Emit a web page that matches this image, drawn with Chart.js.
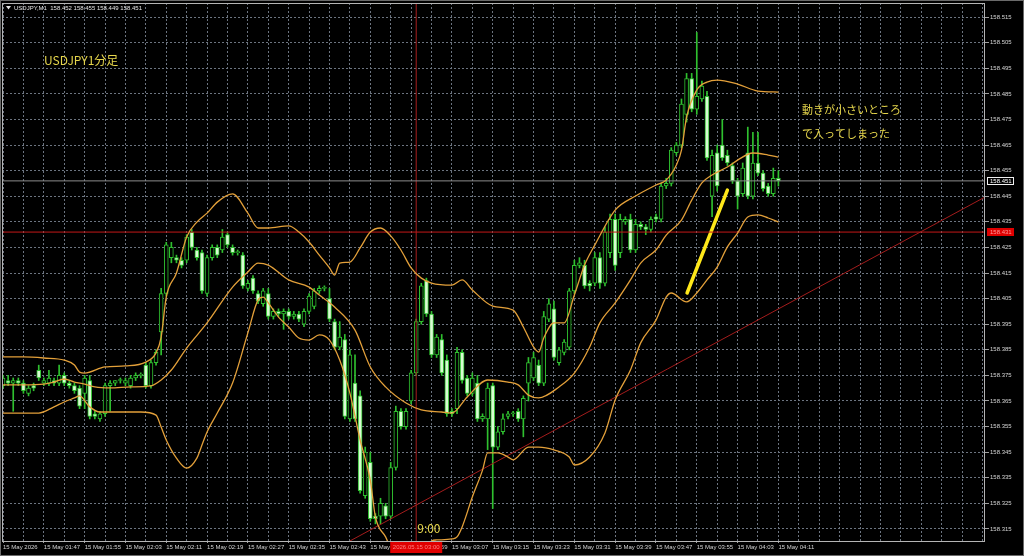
<!DOCTYPE html>
<html>
<head>
<meta charset="utf-8">
<script src="https://cdn.jsdelivr.net/npm/chart.js@4.4.1/dist/chart.umd.min.js"></script>
<style>
html, body { margin: 0; padding: 0; background: #000; overflow: hidden; }
canvas { display: block; }
</style>
</head>
<body>
<canvas id="chart" width="1024" height="556"></canvas>
<script>
// USDJPY M1, one candle per minute from 15 May 01:39
var symbol = "USDJPY,M1";
var timeLabels = ["15 May 2026", "15 May 01:47", "15 May 01:55", "15 May 02:03", "15 May 02:11",
  "15 May 02:19", "15 May 02:27", "15 May 02:35", "15 May 02:43", "15 May 02:51", "15 May 02:59",
  "15 May 03:07", "15 May 03:15", "15 May 03:23", "15 May 03:31", "15 May 03:39", "15 May 03:47",
  "15 May 03:55", "15 May 04:03", "15 May 04:11"];
var priceTicks = ["158.315", "158.325", "158.335", "158.345", "158.355", "158.365", "158.375",
  "158.385", "158.395", "158.405", "158.415", "158.425", "158.435", "158.445", "158.455",
  "158.465", "158.475", "158.485", "158.495", "158.505", "158.515"];

var opens = [158.371,158.373,158.372,158.373,158.372,158.368,158.371,158.377,158.372,158.372,
  158.373,158.372,158.375,158.372,158.371,158.370,158.368,158.373,158.360,158.358,
  158.360,158.371,158.372,158.373,158.372,158.371,158.374,158.375,158.379,158.371,
  158.380,158.392,158.407,158.421,158.421,158.420,158.420,158.431,158.424,158.423,
  158.407,158.421,158.425,158.424,158.430,158.425,158.423,158.422,158.409,158.413,
  158.407,158.403,158.407,158.398,158.400,158.399,158.400,158.398,158.399,158.395,
  158.400,158.402,158.408,158.409,158.405,158.396,158.386,158.389,158.358,158.372,
  158.367,158.328,158.341,158.320,158.320,158.324,158.320,158.339,158.361,158.355,
  158.365,158.376,158.396,158.412,158.399,158.383,158.389,158.381,158.361,158.362,
  158.384,158.374,158.368,158.372,158.358,158.358,158.371,158.347,158.353,158.359,
  158.360,158.361,158.358,158.372,158.374,158.379,158.372,158.397,158.401,158.380,
  158.384,158.386,158.408,158.418,158.418,158.411,158.411,158.421,158.411,158.423,
  158.436,158.423,158.435,158.436,158.424,158.434,158.433,158.432,158.437,158.436,
  158.449,158.450,158.462,158.465,158.477,158.491,158.479,158.483,158.484,158.445,
  158.462,158.465,158.461,158.457,158.451,158.446,158.462,158.445,158.458,158.454,
  158.449,158.446,158.452];
var highs = [158.375,158.375,158.374,158.374,158.373,158.371,158.372,158.379,158.374,158.377,
  158.374,158.379,158.376,158.373,158.372,158.371,158.375,158.375,158.361,158.361,
  158.372,158.373,158.373,158.374,158.374,158.375,158.376,158.376,158.380,158.381,
  158.385,158.409,158.427,158.427,158.422,158.421,158.430,158.432,158.425,158.424,
  158.422,158.426,158.426,158.432,158.431,158.426,158.424,158.423,158.412,158.414,
  158.408,158.409,158.409,158.401,158.401,158.401,158.401,158.400,158.400,158.401,
  158.407,158.409,158.410,158.410,158.409,158.397,158.396,158.391,158.385,158.383,
  158.369,158.347,158.345,158.321,158.327,158.325,158.341,158.363,158.362,158.362,
  158.377,158.397,158.411,158.413,158.400,158.391,158.391,158.383,158.362,158.386,
  158.385,158.375,158.376,158.375,158.360,158.372,158.372,158.355,158.360,158.361,
  158.361,158.362,158.367,158.382,158.384,158.381,158.400,158.405,158.404,158.386,
  158.389,158.409,158.420,158.421,158.420,158.412,158.423,158.423,158.433,158.438,
  158.438,158.438,158.437,158.438,158.436,158.435,158.434,158.437,158.438,158.450,
  158.452,158.464,158.466,158.483,158.493,158.493,158.509,158.490,158.486,158.463,
  158.465,158.475,158.463,158.458,158.452,158.458,158.472,158.470,158.470,158.455,
  158.450,158.456,158.455];
var lows = [158.370,158.371,158.361,158.371,158.368,158.367,158.369,158.373,158.371,158.371,
  158.371,158.371,158.371,158.370,158.368,158.362,158.362,158.358,158.358,158.357,
  158.359,158.361,158.371,158.372,158.371,158.370,158.373,158.374,158.370,158.370,
  158.379,158.383,158.406,158.419,158.419,158.417,158.419,158.424,158.420,158.407,
  158.406,158.420,158.421,158.423,158.425,158.422,158.422,158.409,158.408,158.407,
  158.403,158.402,158.397,158.397,158.398,158.393,158.397,158.397,158.396,158.394,
  158.399,158.401,158.407,158.408,158.396,158.385,158.385,158.358,158.357,158.357,
  158.329,158.327,158.318,158.317,158.317,158.319,158.319,158.338,158.354,158.354,
  158.364,158.375,158.395,158.398,158.382,158.382,158.375,158.359,158.359,158.360,
  158.372,158.367,158.367,158.357,158.357,158.346,158.323,158.346,158.352,158.358,
  158.359,158.357,158.351,158.365,158.373,158.371,158.371,158.396,158.381,158.379,
  158.383,158.385,158.407,158.417,158.409,158.408,158.410,158.409,158.410,158.421,
  158.416,158.421,158.434,158.423,158.423,158.432,158.430,158.431,158.435,158.435,
  158.448,158.449,158.461,158.464,158.474,158.478,158.477,158.482,158.459,158.437,
  158.447,158.459,158.457,158.450,158.440,158.445,158.444,158.444,158.453,158.447,
  158.445,158.445,158.449];
var closes = [158.374,158.372,158.373,158.372,158.369,158.370,158.370,158.374,158.373,158.374,
  158.372,158.375,158.372,158.371,158.369,158.363,158.374,158.359,158.359,158.360,
  158.371,158.372,158.373,158.373,158.373,158.374,158.375,158.375,158.371,158.380,
  158.384,158.407,158.426,158.425,158.420,158.418,158.429,158.425,158.421,158.408,
  158.421,158.425,158.422,158.429,158.426,158.423,158.423,158.410,158.411,158.408,
  158.404,158.408,158.398,158.400,158.399,158.400,158.398,158.399,158.397,158.400,
  158.406,158.408,158.409,158.409,158.397,158.386,158.390,158.359,158.383,158.358,
  158.330,158.345,158.319,158.319,158.325,158.320,158.339,158.361,158.355,158.361,
  158.376,158.396,158.410,158.399,158.383,158.390,158.376,158.360,158.360,158.384,
  158.373,158.368,158.374,158.358,158.359,158.370,158.347,158.353,158.358,158.360,
  158.360,158.358,158.366,158.380,158.382,158.372,158.398,158.403,158.382,158.385,
  158.388,158.408,158.418,158.419,158.410,158.410,158.421,158.411,158.431,158.436,
  158.418,158.436,158.436,158.424,158.434,158.433,158.432,158.436,158.436,158.449,
  158.450,158.463,158.465,158.481,158.491,158.479,158.484,158.488,158.460,158.461,
  158.449,158.460,158.458,158.451,158.445,158.456,158.445,158.458,158.454,158.448,
  158.446,158.452,158.451];

// Bollinger bands (bar index, price)
var upperBars = [0,4,8,12,14,15,16,20,24,28,30,31,32,34,36,38,40,42,45,48,50,52,56,58,60,62,64,65,66,68,
  70,72,74,76,78,80,82,84,88,90,92,96,100,102,104,105,106,108,110,112,114,116,120,124,128,130,132,133,134,136,
  138,140,144,148,152];
var upperBand = [158.3822,158.3822,158.3818,158.381,158.3791,158.3763,158.3759,158.3783,158.3787,158.3802,
  158.3838,158.390,158.4056,158.415,158.4291,158.4349,158.4384,158.4427,158.4459,158.4384,
  158.4326,158.4326,158.4334,158.431,158.4271,158.422,158.417,158.4142,158.4189,158.4193,
  158.4248,158.431,158.4326,158.4295,158.424,158.417,158.413,158.4111,158.4103,158.4123,
  158.4084,158.4021,158.4005,158.3939,158.3861,158.3841,158.3896,158.3955,158.3955,158.4064,
  158.4181,158.4259,158.4396,158.4451,158.4494,158.4513,158.4572,158.463,158.4759,158.4865,
  158.4896,158.4904,158.4888,158.4861,158.4857];
var middleBars = [0,4,8,10,12,14,16,18,21,25,29,31,33,36,40,45,48,50,52,56,60,62,65,69,72,75,79,82,86,88,
  91,95,99,101,103,105,109,112,115,117,120,123,125,128,130,133,135,137,139,142,144,147,150,152];
var middleBand = [158.3713,158.3713,158.3716,158.3724,158.3736,158.3724,158.3716,158.3705,158.3701,158.3705,
  158.3709,158.3732,158.3771,158.3857,158.3955,158.4095,158.4154,158.4189,158.4181,158.4123,
  158.4095,158.4064,158.4017,158.3927,158.3783,158.3705,158.3642,158.3615,158.3607,158.3603,
  158.3666,158.3732,158.3724,158.3713,158.3673,158.3662,158.3705,158.3759,158.3861,158.3955,
  158.4033,158.4123,158.4189,158.424,158.4298,158.4357,158.4435,158.4502,158.4533,158.4564,
  158.4591,158.4619,158.4611,158.4603];
var lowerBars = [0,4,7,10,12,14,15,17,19,23,27,30,31,32,34,36,38,39,40,42,45,48,50,51,52,54,56,58,60,62,
  64,66,68,70,72,73,75,76,78,80,82,84,85,88,89,90,92,94,95,97,99,100,103,105,108,111,112,115,118,120,
  123,125,128,130,131,134,136,138,140,142,144,146,148,150,152];
var lowerBand = [158.3603,158.3603,158.3603,158.3627,158.3646,158.3662,158.367,158.3627,158.3607,158.3607,
  158.3607,158.3595,158.3548,158.3498,158.3427,158.3388,158.3427,158.3478,158.3529,158.3603,
  158.372,158.3916,158.4045,158.4056,158.4033,158.3978,158.3939,158.3896,158.3888,158.3908,
  158.3888,158.381,158.3681,158.3498,158.3341,158.3197,158.3119,158.3076,158.3029,158.3009,
  158.3029,158.3103,158.3107,158.3111,158.3119,158.3158,158.3275,158.338,158.3447,158.3447,
  158.3431,158.342,158.347,158.347,158.3459,158.3431,158.340,158.3431,158.3525,158.3654,
  158.3771,158.3877,158.3966,158.4056,158.4072,158.4037,158.4072,158.4123,158.4173,158.4252,
  158.4306,158.4369,158.4377,158.4365,158.4349];

// drawn objects
var trendBars = [68, 192.5];
var trendPrices = [158.3103, 158.4447];
var arrowBars = [134.1, 142];
var arrowPrices = [158.4072, 158.4474];
var levelPrice = 158.431;
var vlineBar = 81;
var vlineLabel = "2026.05.15 03:00";

var yMin = 158.3103, yMax = 158.5205;
var xMin = -0.2, xMax = 192.5;

var gridColor = "#6c7480";
var candleGreen = "#2fc02f";
var last = closes.length - 1;
var bid = closes[last];

function pts(xs, ys) {
  return xs.map(function (x, i) { return { x: x, y: ys[i] }; });
}

var bodyData = opens.map(function (o, i) { return { x: i, y: [o, closes[i]] }; });
var wickData = opens.map(function (o, i) { return { x: i, y: [lows[i], highs[i]] }; });
var bodyFill = opens.map(function (o, i) { return closes[i] >= o ? "#000000" : "#d8fcd2"; });

function lineSet(data, color, width, extra) {
  var d = {
    type: "line", data: data, borderColor: color, borderWidth: width,
    pointRadius: 0, fill: false, order: 0
  };
  for (var k in extra) d[k] = extra[k];
  return d;
}

var decor = {
  id: "decor",
  beforeDraw: function (chart) {
    var c = chart.ctx;
    c.save();
    c.fillStyle = "#000";
    c.fillRect(0, 0, chart.width, chart.height);
    c.restore();
  },
  afterDraw: function (chart) {
    var c = chart.ctx, a = chart.chartArea;
    var xs = chart.scales.x, ys = chart.scales.y;
    c.save();
    // frames
    c.strokeStyle = "#b4b4b4";
    c.lineWidth = 1;
    c.strokeRect(a.left + 0.5, a.top + 0.5, a.right - a.left - 1, a.bottom - a.top);
    c.strokeStyle = "#6a6a6a";
    c.strokeRect(0.5, 0.5, chart.width - 1, chart.height - 1);

    // header
    c.fillStyle = "#e4e4e4";
    c.beginPath();
    c.moveTo(6, 6); c.lineTo(11, 6); c.lineTo(8.5, 9.5); c.closePath(); c.fill();
    c.font = "6px 'Liberation Sans'";
    c.textBaseline = "middle";
    c.textAlign = "left";
    c.fillText(symbol + "  " + opens[last].toFixed(3) + " " + highs[last].toFixed(3) + " " +
      lows[last].toFixed(3) + " " + closes[last].toFixed(3), 14, 8);

    // notes
    c.fillStyle = "#e6d64c";
    c.font = "12px 'Noto Sans CJK JP'";
    c.fillText("USDJPY1分足", 44, 60);
    c.font = "11px 'Noto Sans CJK JP'";
    c.fillText("動きが小さいところ", 802, 110);
    c.fillText("で入ってしまった", 802, 134);
    c.font = "12px 'Noto Sans CJK JP'";
    c.fillText("9:00", xs.getPixelForValue(vlineBar) + 1, 528);

    // price boxes on the right axis
    c.font = "6px 'Liberation Sans'";
    var yb = Math.round(ys.getPixelForValue(bid));
    c.fillStyle = "#000";
    c.fillRect(987, yb - 4, 27, 8);
    c.strokeStyle = "#f0f0f0";
    c.strokeRect(987.5, yb - 3.5, 26, 7);
    c.fillStyle = "#ffffff";
    c.fillText(bid.toFixed(3), 990, yb);
    var yl = Math.round(ys.getPixelForValue(levelPrice));
    c.fillStyle = "#e00000";
    c.fillRect(987, yl - 4, 27, 8);
    c.fillStyle = "#ff9a9a";
    c.fillText(levelPrice.toFixed(3), 990, yl);

    // time box of the vertical line
    var xv = xs.getPixelForValue(vlineBar);
    c.fillStyle = "#e00000";
    c.fillRect(xv - 26, a.bottom + 1, 52, 11);
    c.fillStyle = "#ff8080";
    c.textAlign = "center";
    c.fillText(vlineLabel, xv, a.bottom + 6.5);
    c.restore();
  }
};

new Chart(document.getElementById("chart"), {
  type: "bar",
  data: {
    datasets: [
      lineSet(pts(upperBars, upperBand), "#e3a03a", 1.3, { cubicInterpolationMode: "monotone" }),
      lineSet(pts(middleBars, middleBand), "#e3a03a", 1.3, { cubicInterpolationMode: "monotone" }),
      lineSet(pts(lowerBars, lowerBand), "#e3a03a", 1.3, { cubicInterpolationMode: "monotone" }),
      lineSet(pts(trendBars, trendPrices), "#a41c1c", 1, {}),
      lineSet(pts([xMin, xMax], [levelPrice, levelPrice]), "#c41818", 1, {}),
      lineSet(pts([xMin, xMax], [bid, bid]), "#8c8c8c", 1, {}),
      lineSet(pts([vlineBar, vlineBar], [yMin, yMax]), "#a81e1e", 1, {}),
      lineSet(pts(arrowBars, arrowPrices), "#ffe81a", 3.5, { borderCapStyle: "round" }),
      {
        type: "bar", data: bodyData, grouped: false, barThickness: 4, minBarLength: 1,
        backgroundColor: bodyFill, borderColor: candleGreen, borderWidth: 1,
        borderSkipped: false, order: 1
      },
      {
        type: "bar", data: wickData, grouped: false, barThickness: 1, minBarLength: 1,
        backgroundColor: candleGreen, borderWidth: 0, borderSkipped: false, order: 2
      }
    ]
  },
  options: {
    responsive: false,
    animation: false,
    devicePixelRatio: 1,
    events: [],
    layout: { padding: { left: 2, top: 3, right: 0, bottom: 0 } },
    plugins: { legend: { display: false }, tooltip: { enabled: false } },
    scales: {
      x: {
        type: "linear", min: xMin, max: xMax, offset: false,
        afterBuildTicks: function (s) {
          s.ticks = [];
          for (var v = 0; v <= 192; v += 4) s.ticks.push({ value: v });
        },
        afterFit: function (s) { s.height = 15; s.paddingLeft = 0; s.paddingRight = 0; },
        grid: {
          color: gridColor, offset: false, tickLength: 2,
          tickColor: function (ctx) {
            var v = ctx.tick ? ctx.tick.value : -1;
            return (v % 8 === 0 && v <= 152) ? "#a0a0a0" : "rgba(0,0,0,0)";
          }
        },
        border: { display: false, dash: [2, 2] },
        ticks: {
          autoSkip: false, maxRotation: 0, minRotation: 0, align: "start", padding: 1,
          color: "#d4d4d4", font: { family: "Liberation Sans", size: 6 },
          callback: function (v) {
            return (v % 8 === 0 && v / 8 < timeLabels.length) ? timeLabels[v / 8] : "";
          }
        }
      },
      y: {
        position: "right", min: yMin, max: yMax,
        afterBuildTicks: function (s) {
          s.ticks = priceTicks.map(function (t) { return { value: parseFloat(t) }; });
        },
        afterFit: function (s) { s.width = 39; s.paddingTop = 0; s.paddingBottom = 0; },
        grid: { color: gridColor, tickLength: 4, tickColor: "#a0a0a0" },
        border: { display: false, dash: [2, 2] },
        ticks: {
          padding: 1, color: "#d4d4d4", font: { family: "Liberation Sans", size: 6 },
          callback: function (v, i) { return priceTicks[i]; }
        }
      }
    }
  },
  plugins: [decor]
});
</script>
</body>
</html>
